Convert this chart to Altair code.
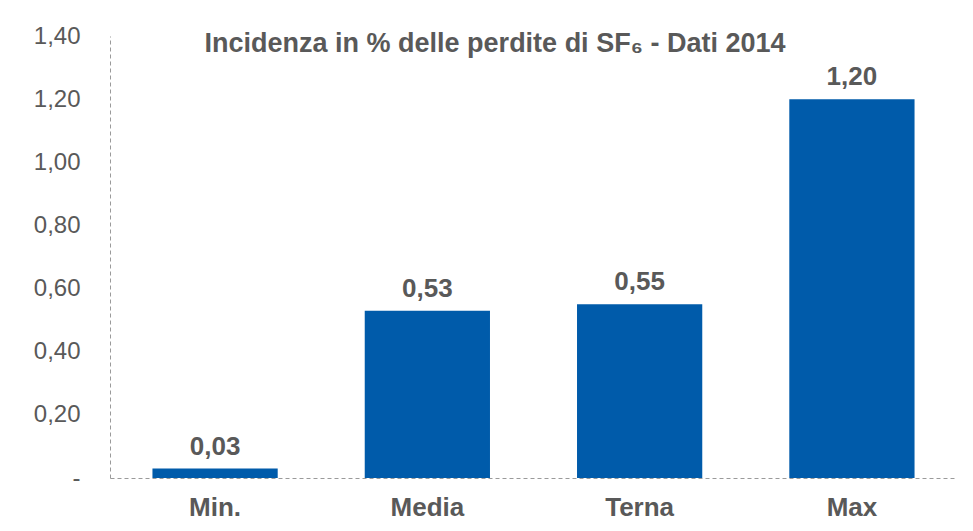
import altair as alt
import pandas as pd

categories = ["Min.", "Media", "Terna", "Max"]
values = [0.03, 0.53, 0.55, 1.20]
y_ticks = [0, 0.2, 0.4, 0.6, 0.8, 1.0, 1.2, 1.4]
title_text = "Incidenza in % delle perdite di SF₆ - Dati 2014"

FONT = "Liberation Sans"
TXT = "#595959"
BAR = "#005BAA"
AXIS_LINE = "#9a9a9a"

df = pd.DataFrame({"cat": categories, "val": values})

x = alt.X(
    "cat:N",
    sort=categories,
    title=None,
    scale=alt.Scale(paddingInner=0.41, paddingOuter=0.2),
    axis=alt.Axis(
        labelAngle=0,
        labelFont=FONT,
        labelFontSize=26,
        labelFontWeight="bold",
        labelColor=TXT,
        labelPadding=16,
        ticks=False,
        domainColor=AXIS_LINE,
        domainDash=[4, 3],
        domainWidth=1,
    ),
)
y = alt.Y(
    "val:Q",
    title=None,
    scale=alt.Scale(domain=[0, 1.4], nice=False),
    axis=alt.Axis(
        values=y_ticks,
        labelExpr="datum.value == 0 ? '-' : replace(format(datum.value, '.2f'), '.', ',')",
        grid=False,
        ticks=False,
        labelPadding=30,
        labelFont=FONT,
        labelFontSize=24,
        labelColor=TXT,
        domainColor=AXIS_LINE,
        domainDash=[4, 3],
        domainWidth=1,
    ),
)

base = alt.Chart(df)
bars = base.mark_bar(color=BAR).encode(x=x, y=y)
labels = base.transform_calculate(
    lab="replace(format(datum.val, '.2f'), '.', ',')"
).mark_text(
    font=FONT, fontSize=26, fontWeight="bold", color=TXT, baseline="alphabetic", dy=-14
).encode(x=x, y=y, text="lab:N")

title = alt.Chart(pd.DataFrame({"t": [title_text]})).mark_text(
    font=FONT, fontSize=27, fontWeight="bold", color=TXT, align="center", baseline="alphabetic"
).encode(text="t:N", x=alt.value(385), y=alt.value(16))

chart = alt.layer(bars, labels, title).properties(
    width=847,
    height=442,
    padding={"left": 102, "top": 28, "right": 8, "bottom": 45},
    autosize=alt.AutoSizeParams(type="none"),
    background="white",
).configure_view(stroke=None)

chart.save("out.html", embed_options={"renderer": "svg", "actions": False})
